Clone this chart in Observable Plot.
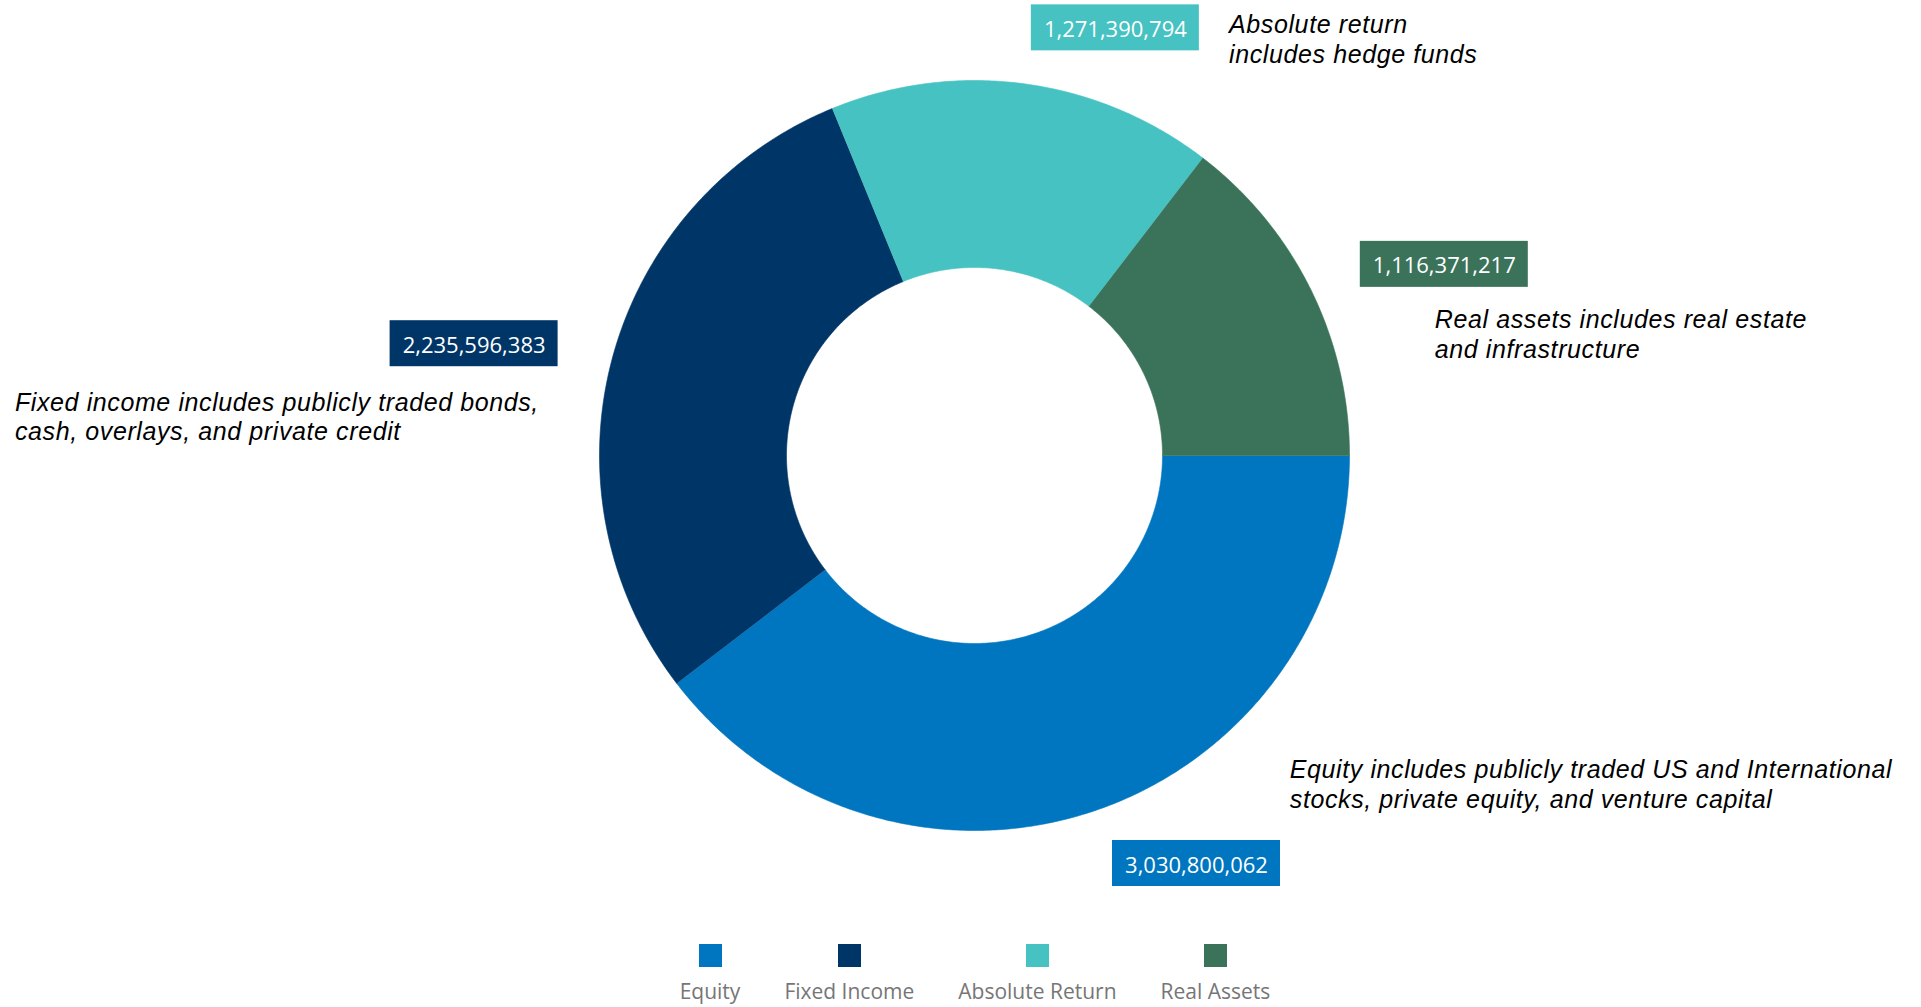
<!DOCTYPE html>
<html>
<head>
<meta charset="utf-8">
<script src="https://cdn.jsdelivr.net/npm/d3@7"></script>
<script src="https://cdn.jsdelivr.net/npm/@observablehq/plot@0.6"></script>
<style>
  html, body { margin: 0; padding: 0; background: #ffffff; overflow: hidden; }
  #chart svg { display: block; }
  #legend { position: absolute; top: 930px; left: 0; width: 1950px; display: flex; justify-content: center; gap: 44px; font-family: "Open Sans", sans-serif; }
  .item { display: flex; flex-direction: column; align-items: center; }
  .sw { width: 23px; height: 23px; margin-top: 14px; }
  .lab { font-size: 21px; line-height: 28px; margin-top: 10px; color: #767676; white-space: nowrap; }
</style>
</head>
<body>
<div id="chart"></div>
<div id="legend"></div>
<script>
// ---- data ----
const categories = ["Equity", "Fixed Income", "Absolute Return", "Real Assets"];
const values = [3030800062, 2235596383, 1271390794, 1116371217];
const colors = ["#0076C0", "#003667", "#45C2C1", "#3A735A"];
const notes = [
  "Equity includes publicly traded US and International\nstocks, private equity, and venture capital",
  "Fixed income includes publicly traded bonds,\ncash, overlays, and private credit",
  "Absolute return\nincludes hedge funds",
  "Real assets includes real estate\nand infrastructure"
];

// ---- layout (chart units: 1 = outer radius, origin = donut centre) ----
const W = 1921, H = 930, CX = 974, CY = 455, RPX = 375;
const INNER = 188 / RPX;
const place = {
  "Equity":          {bx: 0.592,   by: -1.088, nx: 0.8408,  ny: -0.8032},
  "Fixed Income":    {bx: -1.3344, by: 0.2981, nx: -2.5587, ny: 0.1768},
  "Absolute Return": {bx: 0.3756,  by: 1.1404, nx: 0.6789,  ny: 1.184},
  "Real Assets":     {bx: 1.2528,  by: 0.5097, nx: 1.2275,  ny: 0.3973}
};
const BW = 84 / RPX, BH = 23 / RPX;

const rows = categories.map((c, i) => ({category: c, value: values[i], note: notes[i]}));
const arcs = d3.pie().sort(null).value(d => d.value)
  .startAngle(Math.PI / 2).endAngle(Math.PI / 2 + 2 * Math.PI)(rows);

// ring polygons built from the pie angles
const ring = [];
for (const a of arcs) {
  const n = Math.max(8, Math.ceil((a.endAngle - a.startAngle) / (Math.PI / 360)));
  for (let k = 0; k <= n; ++k) {
    const t = a.startAngle + (a.endAngle - a.startAngle) * k / n;
    ring.push({category: a.data.category, x: Math.sin(t), y: Math.cos(t)});
  }
  for (let k = n; k >= 0; --k) {
    const t = a.startAngle + (a.endAngle - a.startAngle) * k / n;
    ring.push({category: a.data.category, x: INNER * Math.sin(t), y: INNER * Math.cos(t)});
  }
}

const fmt = d3.format(",");

const chart = Plot.plot({
  width: W,
  height: H,
  margin: 0,
  x: {domain: [-CX / RPX, (W - CX) / RPX], axis: null},
  y: {domain: [-(H - CY) / RPX, CY / RPX], axis: null},
  color: {domain: categories, range: colors},
  style: {background: "#ffffff", overflow: "visible"},
  marks: [
    Plot.line(ring, {x: "x", y: "y", z: "category", fill: "category", stroke: "category", strokeWidth: 0.6}),
    Plot.rect(rows, {
      x1: d => place[d.category].bx - BW, x2: d => place[d.category].bx + BW,
      y1: d => place[d.category].by - BH, y2: d => place[d.category].by + BH,
      fill: "category"
    }),
    Plot.text(rows, {
      x: d => place[d.category].bx, y: d => place[d.category].by,
      text: d => fmt(d.value), fill: "#ffffff", fontSize: 22,
      fontFamily: "'Open Sans', 'Noto Sans', sans-serif", dy: 2
    }),
    Plot.text(rows, {
      x: d => place[d.category].nx, y: d => place[d.category].ny,
      text: "note", textAnchor: "start", lineAnchor: "top", lineHeight: 1.2,
      fontSize: 25, fontStyle: "italic", fill: "#000000",
      fontFamily: "'Liberation Sans', Arial, sans-serif"
    })
  ]
});

chart.querySelectorAll('g[font-style="italic"] text').forEach(t => t.setAttribute("letter-spacing", "0.6"));
document.getElementById("chart").appendChild(chart);

// ---- legend ----
const legend = document.getElementById("legend");
categories.forEach((c, i) => {
  const item = document.createElement("div");
  item.className = "item";
  const sw = document.createElement("div");
  sw.className = "sw";
  sw.style.background = colors[i];
  const lab = document.createElement("div");
  lab.className = "lab";
  lab.textContent = c;
  item.appendChild(sw);
  item.appendChild(lab);
  legend.appendChild(item);
});
</script>
</body>
</html>
